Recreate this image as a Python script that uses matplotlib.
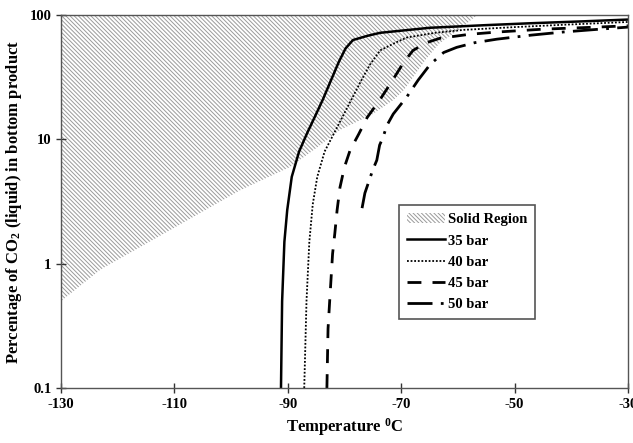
import numpy as np
import matplotlib
matplotlib.use("Agg")
import matplotlib.pyplot as plt
from matplotlib.patches import Patch
from matplotlib.lines import Line2D

plt.rcParams['font.family'] = ['Liberation Serif', 'DejaVu Serif']
plt.rcParams['hatch.linewidth'] = 0.7

# solid region boundary (lower edge of hatched area)
solid_T = [-130, -126, -123, -110, -98.4, -89.6, -85, -80.8, -75, -71.4, -69.5, -67.9, -65.5, -63.2, -60, -56.6]
solid_v = [0.5, 0.7, 0.9, 1.95, 3.9, 6.0, 8.5, 11.9, 16, 20.7, 25, 31.7, 45, 59.5, 75, 100]

# 35 bar
T35 = [-91.2, -91.0, -90.6, -90.1, -89.3, -88.0, -86.6, -85.0, -83.8, -82.5, -81.0, -79.8, -78.5, -76.0, -73.7, -65, -55, -47, -38, -30]
v35 = [0.1, 0.5, 1.5, 2.7, 5, 8, 11.2, 16, 21, 29, 42, 54, 63, 68, 72, 79, 83, 86, 89, 92]

# 40 bar
T40 = [-87.1, -86.7, -86.2, -85.6, -84.8, -83.5, -81.5, -79.0, -77, -75.5, -73.7, -71, -69, -64, -59, -50, -41.5, -30]
v40 = [0.1, 0.5, 1.5, 3, 5, 8, 12, 20, 30, 40, 52, 60, 66, 72, 76, 80, 83.5, 88]

# 45 bar
T45 = [-83.1, -82.9, -82.6, -82.1, -81.7, -81.3, -80.8, -80.0, -79.0, -77.5, -76.0, -73.7, -71.5, -69.5, -67.9, -65.5, -63.2, -58, -53.1, -45, -35.5, -30]
v45 = [0.1, 0.3, 0.51, 1.2, 1.76, 2.7, 4.1, 6, 8.2, 11, 15, 21, 30, 42, 52, 60, 65, 70, 73, 77, 80, 82]

# 50 bar
T50 = [-76.9, -76.4, -75.0, -74.3, -73.8, -73.2, -72.5, -71.4, -69.0, -67, -64.9, -62.5, -60.2, -57, -53.1, -47, -41.5, -35, -30]
v50 = [2.8, 3.7, 5.7, 6.8, 9, 10.4, 13, 16, 22, 30, 40, 50, 55, 60, 64, 69, 73, 77, 80]

hatch = '\\' * 8
ls40 = (0, (1, 1))
ls45 = (0, (5, 4))
ls50 = (0, (9, 3, 1, 3))

fig = plt.figure(figsize=(6.33, 4.43), dpi=100)
ax = fig.add_axes([0.0964, 0.124, 0.8956, 0.842])

ax.fill_between(solid_T, solid_v, 100, facecolor='white', edgecolor='#9a9a9a',
                hatch=hatch, linewidth=0)

ax.plot(T35, v35, color='black', lw=1.8, ls='-')
ax.plot(T40, v40, color='black', lw=1.3, ls=ls40)
ax.plot(T45, v45, color='black', lw=2.0, ls=ls45)
ax.plot(T50, v50, color='black', lw=2.0, ls=ls50)

ax.set_yscale('log')
ax.set_xlim(-130, -30)
ax.set_ylim(0.1, 100)
ax.set_xticks([-130, -110, -90, -70, -50, -30])
ax.set_xticklabels(['-130', '-110', '-90', '-70', '-50', '-30'])
ax.set_yticks([0.1, 1, 10, 100])
ax.set_yticklabels(['0.1', '1', '10', '100'])
ax.minorticks_off()
ax.tick_params(direction='inout', length=7, width=1, colors='#333333', labelsize=10.5)
for lab in ax.get_xticklabels() + ax.get_yticklabels():
    lab.set_fontweight('bold')
    lab.set_color('black')
for s in ax.spines.values():
    s.set_color('#555555')
    s.set_linewidth(1)

ax.set_xlabel('Temperature $\\mathregular{^0}$C', fontsize=12, fontweight='bold')
ax.set_ylabel('Percentage of CO$\\mathregular{_2}$ (liquid) in bottom product', fontsize=12, fontweight='bold')

handles = [
    Patch(facecolor='white', edgecolor='#9a9a9a', hatch=hatch, linewidth=0),
    Line2D([], [], color='black', lw=1.8, ls='-'),
    Line2D([], [], color='black', lw=1.3, ls=ls40),
    Line2D([], [], color='black', lw=2.0, ls=ls45),
    Line2D([], [], color='black', lw=2.0, ls=ls50),
]
labels = ['Solid Region', '35 bar', '40 bar', '45 bar', '50 bar']
leg = ax.legend(handles, labels, loc='upper left', bbox_to_anchor=(0.583, 0.51),
                fancybox=False, framealpha=1, edgecolor='#555555',
                prop={'size': 10.5, 'weight': 'bold'}, handlelength=2.6,
                handletextpad=0.2, labelspacing=0.55, borderpad=0.55)
leg.get_frame().set_linewidth(1.2)

fig.savefig('out.png', dpi=100)
